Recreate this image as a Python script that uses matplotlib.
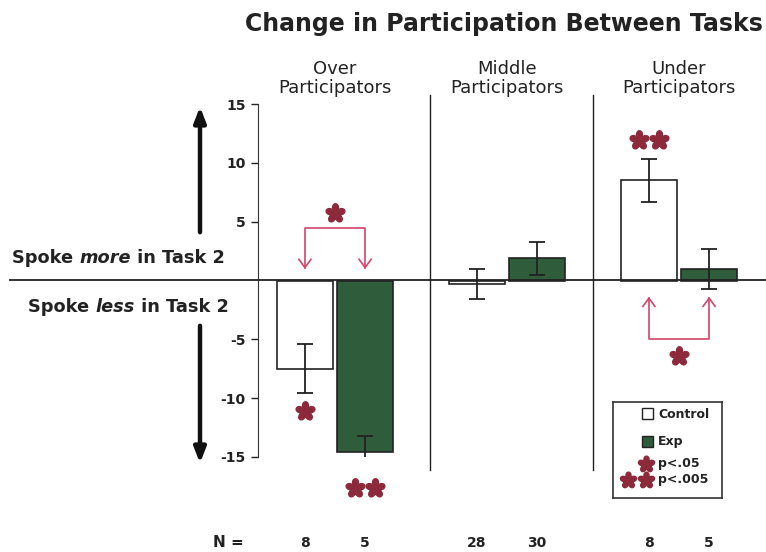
import numpy as np
import matplotlib.pyplot as plt
from matplotlib.lines import Line2D
from matplotlib.path import Path

groups = ["Over\nParticipators", "Middle\nParticipators", "Under\nParticipators"]
control = [-7.5, -0.3, 8.5]
control_err = [2.1, 1.3, 1.8]
exp_vals = [-14.6, 1.9, 1.0]
exp_err = [1.35, 1.4, 1.7]
n_control = [8, 28, 8]
n_exp = [5, 30, 5]
yticks = [-15, -10, -5, 5, 10, 15]

RED = "#8c2a3c"
PINK = "#d2466a"
GREEN = "#2f5c3a"
INK = "#222222"

# five-petal asterisk used for significance marks
th = np.linspace(0, 2 * np.pi, 300)
r = 0.38 + 0.62 * np.abs(np.cos(2.5 * (th - np.pi / 2))) ** 0.8
flower = Path(np.column_stack([r * np.cos(th), r * np.sin(th)]), closed=True)

fig = plt.figure(figsize=(7.66, 5.52), dpi=100)
W, H = 766, 552
# axes: x from 258 px to right edge, y from 104 px (15) to 457 px (-15)
ax = fig.add_axes([258 / W, 1 - 457 / H, (W - 258) / W, (457 - 104) / H])

x = np.arange(len(groups)) * 1.0
off, bw = 0.175, 0.33
ax.bar(x - off, control, bw, color="white", edgecolor=INK, lw=1.2, zorder=2)
ax.bar(x + off, exp_vals, bw, color=GREEN, edgecolor=INK, lw=1.2, zorder=2)
ax.errorbar(x - off, control, yerr=control_err, fmt="none", ecolor=INK,
            elinewidth=1.3, capsize=6, capthick=1.3, zorder=3)
ax.errorbar(x + off, exp_vals, yerr=exp_err, fmt="none", ecolor=INK,
            elinewidth=1.3, capsize=6, capthick=1.3, zorder=3)

ax.set_xlim((258 - 335) / 172, (766 - 335) / 172)
ax.set_ylim(-15, 15)
ax.set_yticks(yticks)
ax.set_yticklabels([str(t) for t in yticks], fontweight="bold", fontsize=10)
ax.tick_params(axis="y", direction="out", length=5, width=1, pad=4, colors=INK)
ax.set_xticks([])
for s in ["top", "right", "bottom"]:
    ax.spines[s].set_visible(False)
ax.spines["left"].set_color("#333333")

# group dividers
for xd in [0.55, 1.5]:
    ax.plot([xd, xd], [15.8, -16.1], color=INK, lw=1, clip_on=False)

# zero line across the whole figure
fig.add_artist(Line2D([10 / W, 1], [1 - 280 / H] * 2, color=INK, lw=1.3))

# group headers
for xi, g in zip(x, groups):
    ax.text(xi, 15.6, g, ha="center", va="bottom", fontsize=13, linespacing=1.05,
            color=INK)

fig.text(504 / W, 1 - 24 / H, "Change in Participation Between Tasks", ha="center",
         va="center", fontsize=17, fontweight="bold", color=INK)

# direction labels, each word chained onto the previous one
def side_label(x0, y0, word):
    t1 = fig.text(x0 / W, 1 - y0 / H, "Spoke ", fontsize=12.8, fontweight="bold",
                  va="baseline", color=INK)
    t2 = fig.add_artist(plt.Annotation(word, xy=(1, 0), xycoords=t1, va="bottom",
                                       fontsize=12.8, fontweight="bold", style="italic",
                                       color=INK))
    fig.add_artist(plt.Annotation(" in Task 2", xy=(1, 0), xycoords=t2, va="bottom",
                                  fontsize=12.8, fontweight="bold", color=INK))

side_label(12, 263, "more")
side_label(28, 312, "less")

for y0, y1 in [(235, 104), (323, 466)]:
    fig.add_artist(plt.Annotation("", xy=(200 / W, 1 - y1 / H), xytext=(200 / W, 1 - y0 / H),
                                  xycoords="figure fraction", textcoords="figure fraction",
                                  arrowprops=dict(arrowstyle="-|>,head_width=0.35,head_length=0.9",
                                                  color="#111111", lw=3.2)))

# significance brackets
def bracket(xa, xb, ybar, ytip):
    ax.plot([xa, xa, xb, xb], [ytip, ybar, ybar, ytip], color=PINK, lw=1.2, zorder=4)
    d = 0.7 if ytip < ybar else -0.7
    for xi in (xa, xb):
        ax.plot([xi - 0.035, xi, xi + 0.035], [ytip + d, ytip, ytip + d], color=PINK,
                lw=1.2, zorder=4)

def stars(xc, yc, k):
    xs = [xc] if k == 1 else [xc - 0.058, xc + 0.058]
    ax.plot(xs, [yc] * len(xs), ls="none", marker=flower, ms=14, color=RED,
            clip_on=False, zorder=5)

bracket(x[0] - off, x[0] + off, 4.5, 1.1)
stars(x[0], 5.7, 1)
bracket(x[2] - off, x[2] + off, -5.0, -1.5)
stars(x[2], -6.4, 1)
stars(x[0] - off, -11.1, 1)
stars(x[0] + off, -17.6, 2)
stars(x[2] - off, 11.9, 2)

# legend
lax = fig.add_axes([613 / W, 1 - 498 / H, 109 / W, 96 / H])
lax.set_xlim(0, 109)
lax.set_ylim(96, 0)
lax.set_xticks([])
lax.set_yticks([])
for s in lax.spines.values():
    s.set_color("#333333")
    s.set_linewidth(1.2)
lax.add_patch(plt.Rectangle((29, 6), 11, 11, facecolor="white", edgecolor=INK, lw=1))
lax.add_patch(plt.Rectangle((29, 34), 11, 11, facecolor=GREEN, edgecolor=INK, lw=1))
lax.text(45, 12, "Control", fontsize=9, fontweight="bold", va="center", color=INK)
lax.text(45, 40, "Exp", fontsize=9, fontweight="bold", va="center", color=INK)
lax.plot([33], [62], ls="none", marker=flower, ms=12, color=RED)
lax.plot([15, 33], [78, 78], ls="none", marker=flower, ms=12, color=RED)
lax.text(45, 62, "p<.05", fontsize=9, fontweight="bold", va="center", color=INK)
lax.text(45, 78, "p<.005", fontsize=9, fontweight="bold", va="center", color=INK)

# sample sizes
yn = -22.3
ax.text(-0.62, yn, "N =", fontsize=11, fontweight="bold", ha="center", va="center",
        color=INK, clip_on=False)
for xi, nc, ne in zip(x, n_control, n_exp):
    ax.text(xi - off, yn, str(nc), fontsize=10, fontweight="bold", ha="center",
            va="center", color=INK)
    ax.text(xi + off, yn, str(ne), fontsize=10, fontweight="bold", ha="center",
            va="center", color=INK)

fig.savefig("out.png", dpi=100)
